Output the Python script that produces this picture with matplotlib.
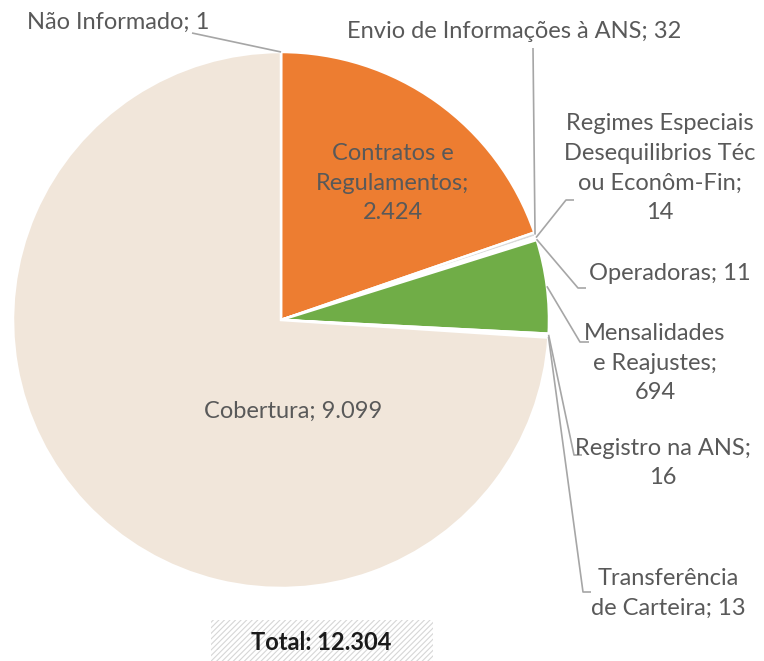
import matplotlib
matplotlib.use("Agg")
import matplotlib.pyplot as plt
from matplotlib.patches import Rectangle
import numpy as np

categories = ["Não Informado", "Contratos e\nRegulamentos", "Envio de Informações à ANS",
              "Regimes Especiais\nDesequilibrios Téc\nou Econôm-Fin", "Operadoras",
              "Mensalidades\ne Reajustes", "Registro na ANS", "Transferência\nde Carteira",
              "Cobertura"]
values = [1, 2424, 32, 14, 11, 694, 16, 13, 9099]
value_labels = ["1", "2.424", "32", "14", "11", "694", "16", "13", "9.099"]
total_label = "Total: 12.304"

colors = ["#D9D9D9", "#ED7D31", "#D9D9D9", "#D9D9D9", "#D9D9D9", "#70AD47",
          "#D9D9D9", "#D9D9D9", "#F1E6DA"]

W, H = 764, 661
plt.rcParams['font.family'] = ['Lato', 'DejaVu Sans']
plt.rcParams['hatch.color'] = '#D6D6D6'
plt.rcParams['hatch.linewidth'] = 0.8
fig = plt.figure(figsize=(W / 100, H / 100), dpi=100)
ax = fig.add_axes([0, 0, 1, 1])
ax.set_xlim(0, W)
ax.set_ylim(0, H)
ax.set_aspect('equal')
ax.axis('off')

def P(x, y):
    return (x, H - y)

cx, cy = P(281, 320)
R = 268
wedges, _ = ax.pie(values, colors=colors, startangle=90, counterclock=False,
                   center=(cx, cy), radius=R,
                   wedgeprops=dict(edgecolor='white', linewidth=1.8))
ax.set_xlim(0, W)
ax.set_ylim(0, H)

txt = '#595959'
line_c = '#A6A6A6'
fs = 17
ls = 1.52

def edge_point(w, frac=1.0):
    th = np.deg2rad((w.theta1 + w.theta2) / 2)
    return cx + R * frac * np.cos(th), cy + R * frac * np.sin(th)

def lab(i):
    return f"{categories[i]}; {value_labels[i]}"

# inside labels
ax.text(*P(393, 183), "Contratos e\nRegulamentos;\n" + value_labels[1], ha='center', va='center',
        fontsize=fs, color=txt, linespacing=ls)
ax.text(*P(293, 411), lab(8), ha='center', va='center', fontsize=fs, color=txt)

# outside labels: (index, text pos, elbow, tick end, text)
outs = [
    (0, P(118, 22), P(192, 33), None, lab(0)),
    (2, P(514, 32), P(533, 48), None, lab(2)),
    (3, P(660, 168), P(566, 200), P(574, 200), "Regimes Especiais\nDesequilibrios Téc\nou Econôm-Fin;\n" + value_labels[3]),
    (4, P(670, 273), P(578, 288), P(586, 288), lab(4)),
    (5, P(655, 363), P(580, 342), P(589, 342), "Mensalidades\ne Reajustes;\n" + value_labels[5]),
    (6, P(663, 463), P(574, 455), P(582, 455), "Registro na ANS;\n" + value_labels[6]),
    (7, P(668, 593), P(583, 592), P(591, 592), "Transferência\nde Carteira; " + value_labels[7]),
]
for i, tpos, elbow, tick, text in outs:
    sx, sy = edge_point(wedges[i])
    xs = [sx, elbow[0]]
    ys = [sy, elbow[1]]
    if tick is not None:
        xs.append(tick[0]); ys.append(tick[1])
    ax.plot(xs, ys, color=line_c, lw=1.2, solid_capstyle='butt')
    ax.text(*tpos, text, ha='center', va='center', fontsize=fs, color=txt, linespacing=ls)

# total box
bx0, by1 = P(211, 661)
rect = Rectangle((bx0, by1), 222, 41, facecolor='white', edgecolor='#D6D6D6',
                 hatch='//////', linewidth=0)
ax.add_patch(rect)
ax.text(*P(321, 642), total_label, ha='center', va='center', fontsize=fs,
        fontweight='bold', color='#1a1a1a')

fig.savefig("out.png", dpi=100)
